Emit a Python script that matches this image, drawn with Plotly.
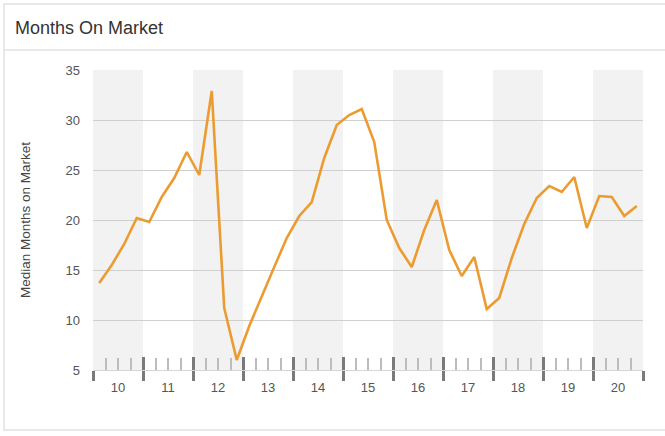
import plotly.graph_objects as go

# Quarterly data 2010 Q1 .. 2020 Q4
years = list(range(10, 21))
year_labels = [str(y) for y in years]
months_on_market = [
    13.7, 15.5, 17.6, 20.2,   # 10
    19.8, 22.3, 24.2, 26.8,   # 11
    24.5, 32.9, 11.2, 6.0,    # 12
    9.4, 12.4, 15.3, 18.2,    # 13
    20.4, 21.8, 26.2, 29.5,   # 14
    30.5, 31.1, 27.8, 20.0,   # 15
    17.2, 15.3, 19.0, 22.0,   # 16
    17.0, 14.4, 16.3, 11.1,   # 17
    12.2, 16.2, 19.6, 22.2,   # 18
    23.4, 22.8, 24.3, 19.2,   # 19
    22.4, 22.3, 20.4, 21.4,   # 20
]
y_ticks = [5, 10, 15, 20, 25, 30, 35]

x_vals = [years[0] + (i + 0.5) / 4 for i in range(len(months_on_market))]
x_min, x_max = years[0], years[-1] + 1
centers = [y + 0.5 for y in years]
boundaries = list(range(x_min, x_max + 1))
quarters = [y + q / 4 for y in years for q in (1, 2, 3)]

ORANGE = "#EC9B30"
FONT = "Liberation Sans"

fig = go.Figure()
fig.add_trace(go.Scatter(x=x_vals, y=months_on_market, mode="lines",
                         line=dict(color=ORANGE, width=2.6),
                         showlegend=False, hoverinfo="skip"))
# helper traces to activate overlaying axes
for ax in ("x2", "x3"):
    fig.add_trace(go.Scatter(x=x_vals, y=months_on_market, mode="lines",
                             xaxis=ax, line=dict(width=0), opacity=0,
                             showlegend=False, hoverinfo="skip"))

shapes = []
# alternating year bands
for i, y in enumerate(years):
    if i % 2 == 0:
        shapes.append(dict(type="rect", xref="x", yref="paper", x0=y, x1=y + 1,
                           y0=0, y1=1, fillcolor="#F2F2F2", line=dict(width=0),
                           layer="below"))

def px_x(p):
    return (p - 93) / 550

def px_y(p):
    return (370 - p) / 300

# card border and header separator
shapes.append(dict(type="rect", xref="paper", yref="paper",
                   x0=px_x(4), x1=px_x(672), y0=px_y(430), y1=px_y(4),
                   line=dict(color="#E2E2E2", width=1.5), fillcolor="rgba(0,0,0,0)",
                   layer="below"))
shapes.append(dict(type="line", xref="paper", yref="paper",
                   x0=px_x(4), x1=px_x(672), y0=px_y(50), y1=px_y(50),
                   line=dict(color="#E2E2E2", width=1.5)))

fig.update_layout(
    width=665, height=436,
    margin=dict(l=93, r=22, t=70, b=66),
    paper_bgcolor="white", plot_bgcolor="white",
    font=dict(family=FONT, size=13, color="#555"),
    shapes=shapes,
    xaxis=dict(range=[x_min, x_max], tickmode="array", tickvals=boundaries,
               showticklabels=False, ticks="outside", ticklen=10, tickwidth=3,
               tickcolor="#7A7A7A", showgrid=False, zeroline=False,
               showline=True, linecolor="#D5D5D5", linewidth=1,
               minor=dict(tickmode="array", tickvals=quarters, ticks="inside",
                          ticklen=12, tickwidth=2, tickcolor="#BDBDBD",
                          showgrid=False)),
    xaxis2=dict(overlaying="x", anchor="y", side="bottom",
                range=[x_min, x_max], tickmode="array", tickvals=boundaries,
                showticklabels=False, ticks="inside", ticklen=13, tickwidth=3,
                tickcolor="#7A7A7A", showgrid=False, zeroline=False, showline=False),
    xaxis3=dict(overlaying="x", anchor="y", side="bottom",
                range=[x_min, x_max], tickmode="array", tickvals=centers,
                ticktext=year_labels, ticks="", showgrid=False, zeroline=False,
                showline=False, ticklabelstandoff=8,
                tickfont=dict(family=FONT, size=13, color="#555")),
    yaxis=dict(range=[5, 35], tickmode="array", tickvals=y_ticks,
               showgrid=True, gridcolor="#CFCFCF", gridwidth=1, zeroline=False,
               ticks="", ticklabelstandoff=12,
               tickfont=dict(family=FONT, size=13, color="#555")),
    annotations=[
        dict(text="Months On Market", xref="paper", yref="paper",
             x=px_x(13), y=px_y(28), xanchor="left", yanchor="middle",
             showarrow=False, font=dict(family=FONT, size=18, color="#333")),
        dict(text="Median Months on Market", xref="paper", yref="paper",
             x=px_x(25), y=px_y(220), xanchor="center", yanchor="middle",
             textangle=-90, showarrow=False,
             font=dict(family=FONT, size=13.5, color="#444")),
    ],
)

fig.write_html("out.html")
